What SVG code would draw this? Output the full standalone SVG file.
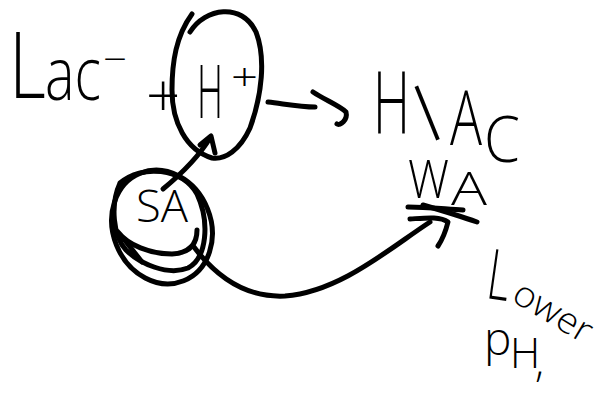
<svg xmlns="http://www.w3.org/2000/svg" width="596" height="394" viewBox="0 0 596 394">
  <style>
    .ink { fill: none; stroke: #000; stroke-width: 5; stroke-linecap: round; stroke-linejoin: round; }
    .hand { font-family: "Open Sans", "Liberation Sans", sans-serif; font-weight: 300; fill: #000; }
  </style>
  <rect width="596" height="394" fill="#fff"/>

  <!-- lactate ion -->
  <g id="lac">
    <text class="hand" transform="translate(9 98) scale(0.78 1)" font-size="92">L</text>
    <text class="hand" x="45" y="100" font-size="74" textLength="56" lengthAdjust="spacingAndGlyphs">ac</text>
    <text class="hand" x="103" y="72" font-size="36" textLength="24" lengthAdjust="spacingAndGlyphs">−</text>
  </g>

  <g id="plus">
    <text class="hand" x="146" y="117" font-size="60">+</text>
  </g>

  <!-- proton, circled -->
  <g id="proton">
    <path class="ink" d="M190,32 C205,8 242,2 256,32 C266,58 262,95 250,128 C240,150 225,160 212,158 C186,150 172,122 172,90 C172,62 176,36 192,14"/>
    <text class="hand" x="197" y="118" font-size="74" textLength="26" lengthAdjust="spacingAndGlyphs">H</text>
    <text class="hand" x="231" y="91" font-size="38" textLength="27" lengthAdjust="spacingAndGlyphs">+</text>
  </g>

  <!-- lactic acid -->
  <g id="hlac">
    <text class="hand" x="373" y="134" font-size="86" textLength="37" lengthAdjust="spacingAndGlyphs">H</text>
    <text class="hand" transform="translate(430 143) rotate(-22)" font-size="76">l</text>
    <text class="hand" x="450" y="145" font-size="76" textLength="32" lengthAdjust="spacingAndGlyphs">A</text>
    <text class="hand" x="484" y="162" font-size="64" textLength="36" lengthAdjust="spacingAndGlyphs">C</text>
  </g>

  <!-- weak acid -->
  <g id="wa">
    <text class="hand" x="408" y="198" font-size="54" textLength="41" lengthAdjust="spacingAndGlyphs">W</text>
    <text class="hand" x="451" y="205" font-size="46" textLength="36" lengthAdjust="spacingAndGlyphs">A</text>
  </g>

  <!-- strong acid, circled twice -->
  <g id="sa">
    <ellipse class="ink" cx="162" cy="227" rx="49" ry="58" transform="rotate(-22 162 227)"/>
    <path class="ink" d="M120,183 C142,164 182,168 197,194 C210,222 207,258 188,268 C168,276 140,264 126,250 C113,236 110,205 120,183"/>
    <path class="ink" d="M118,232 C128,245 150,254 172,254 C190,253 197,244 197,230"/>
    <path class="ink" d="M123,238 L142,262"/>
    <text class="hand" x="136" y="222" font-size="44" textLength="52" lengthAdjust="spacingAndGlyphs">SA</text>
  </g>

  <!-- lower pH note -->
  <g id="note">
    <text class="hand" transform="translate(485 298) rotate(8) scale(0.62 1)" font-size="70">L</text>
    <text class="hand" transform="translate(510 300) rotate(31)" font-size="36" textLength="86" lengthAdjust="spacingAndGlyphs">ower</text>
    <text class="hand" x="484" y="355" font-size="46">p</text>
    <text class="hand" x="510" y="368" font-size="42">H</text>
    <text class="hand" x="535" y="377" font-size="42">,</text>
  </g>

  <g id="connectors">
    <!-- H+ combines to HLAC -->
    <path class="ink" d="M268,102 C285,104 300,107 315,107"/>
    <path class="ink" d="M313,92 C325,100 340,106 346,112 C348,120 340,126 337,124"/>
    <!-- SA feeds H+ -->
    <path class="ink" d="M163,189 C180,175 198,158 210,138"/>
    <path class="ink" d="M200,145 L211,136 L215,153"/>
    <!-- SA to WA -->
    <path class="ink" d="M194,247 C215,275 245,298 285,296 C340,292 390,248 430,222"/>
    <!-- equilibrium marks under WA -->
    <path class="ink" d="M408,207 C425,207 445,209 463,210"/>
    <path class="ink" d="M423,205 C440,210 460,216 477,222"/>
    <path class="ink" d="M410,219 C425,218 440,216 448,222 C446,230 442,240 438,246"/>
  </g>
</svg>
